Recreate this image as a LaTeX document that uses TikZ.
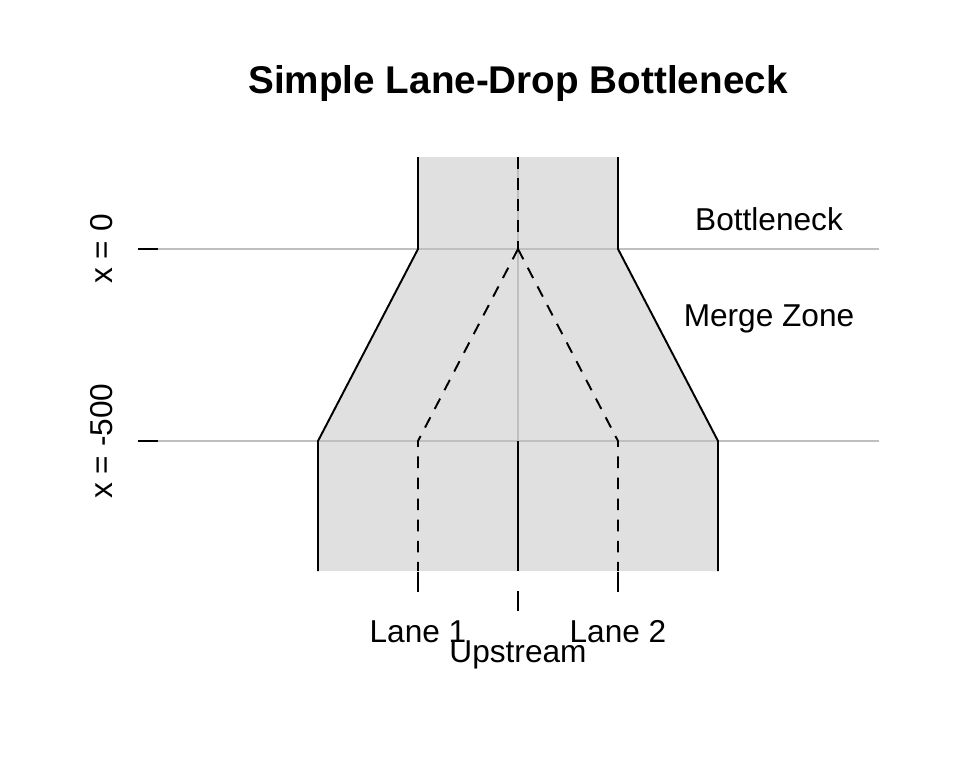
\documentclass[tikz,border=0pt]{standalone}
\usepackage{fontspec}
\setmainfont{Liberation Sans}
\definecolor{roadgray}{gray}{0.88}
\definecolor{refgray}{gray}{0.75}

\begin{document}
\begin{tikzpicture}[x=0.02cm,y=-0.02cm,
    edge/.style={line width=1.1pt},
    lanemark/.style={line width=1.1pt,dash pattern=on 6.6pt off 5.4pt},
    refline/.style={line width=1.1pt,refgray},
    lbl/.style={font=\fontsize{18}{20}\selectfont,inner sep=0pt,anchor=base}]

\useasboundingbox (0,0) rectangle (960,768);

% road outline
\coordinate (topL) at (418,157);
\coordinate (topR) at (618,157);
\coordinate (topC) at (518,157);
\coordinate (neckL) at (418,249);
\coordinate (neckR) at (618,249);
\coordinate (neckC) at (518,249);
\coordinate (mergeL) at (318,441);
\coordinate (mergeR) at (718,441);
\coordinate (lane1) at (418,441);
\coordinate (lane2) at (618,441);
\coordinate (mid) at (518,441);
\coordinate (endL) at (318,571);
\coordinate (endR) at (718,571);
\coordinate (end1) at (418,571);
\coordinate (end2) at (618,571);
\coordinate (endC) at (518,571);

\fill [roadgray] (endL) -- (mergeL) -- (neckL) -- (topL) -- (topR) -- (neckR) -- (mergeR) -- (endR) -- cycle;

% reference lines
\coordinate (ref0a) at (158,249);
\coordinate (ref0b) at (879,249);
\coordinate (ref5a) at (158,441);
\coordinate (ref5b) at (879,441);
\draw [refline] (ref0a) -- (ref0b);
\draw [refline] (ref5a) -- (ref5b);
\draw [refline] (topC) -- (endC);

\draw [edge] (topL) -- (neckL) -- (mergeL) -- (endL);
\draw [edge] (topR) -- (neckR) -- (mergeR) -- (endR);
\draw [edge] (mid) -- (endC);

\draw [lanemark] (topC) -- (neckC);
\draw [lanemark] (neckC) -- (lane1) -- (end1);
\draw [lanemark] (neckC) -- (lane2) -- (end2);

% axis ticks
\foreach \y in {249,441}
    \draw [edge] (138,\y) -- (158,\y);
\foreach \x in {418,618}
    \draw [edge] (\x,572) -- (\x,592);
\draw [edge] (518,591) -- (518,611);

\node [lbl] (lab1) at (418,642) {Lane 1};
\node [lbl] (lab2) at (618,642) {Lane 2};
\node [lbl] (labup) at (518,662) {Upstream};
\node [lbl] (labneck) at (769,230.7) {Bottleneck};
\node [lbl] (labmerge) at (769,326.7) {Merge Zone};
\node [lbl,rotate=90] (labx0) at (112,249) {x = 0};
\node [lbl,rotate=90] (labx5) at (112,441) {x = -500};

\node [lbl,font=\fontsize{22}{26}\selectfont\bfseries] (title) at (518,93) {Simple Lane-Drop Bottleneck};

\end{tikzpicture}
\end{document}
